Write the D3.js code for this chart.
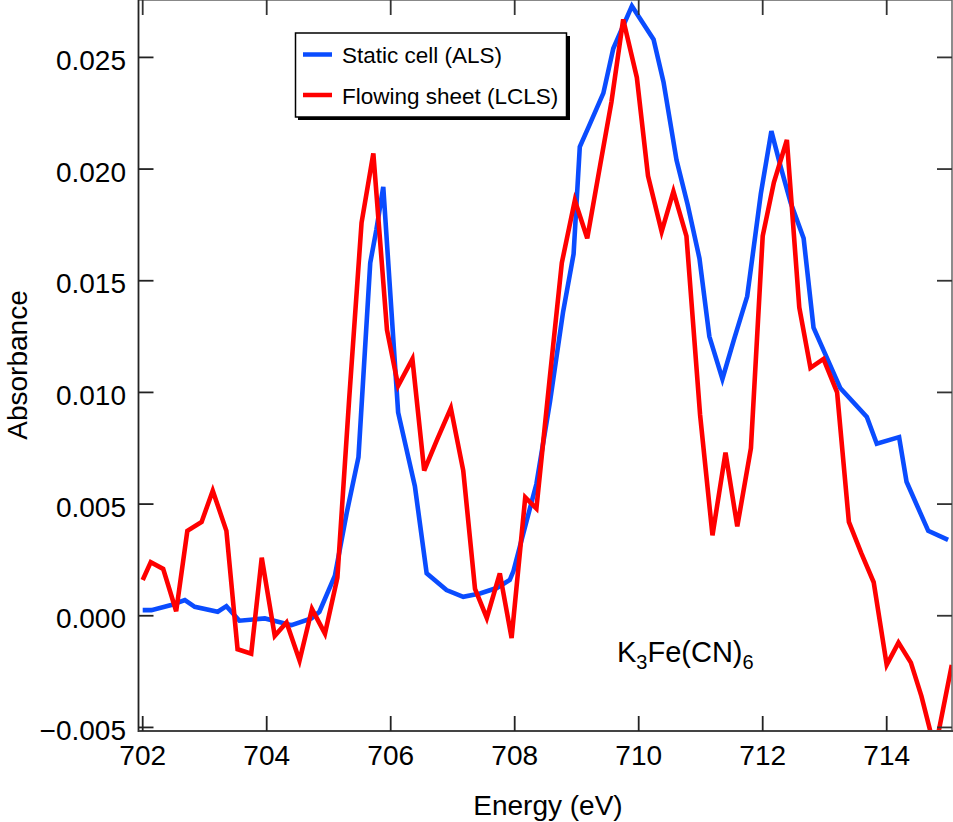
<!DOCTYPE html>
<html>
<head>
<meta charset="utf-8">
<script src="https://cdn.jsdelivr.net/npm/d3@7"></script>
<style>
  html, body { margin: 0; padding: 0; background: #fff; }
  svg { display: block; }
  text { font-family: "Liberation Sans", Arial, Helvetica, sans-serif; fill: #000; }
</style>
</head>
<body>
<svg id="chart" width="953" height="822"></svg>
<script>
// ---- Data ----
const alsEnergy = [702.00, 702.14, 702.46, 702.68, 702.84, 703.21, 703.35, 703.56, 703.97, 704.40,
  704.72, 704.85, 705.10, 705.29, 705.48, 705.67, 705.77, 705.88, 706.12, 706.39,
  706.58, 706.90, 707.17, 707.44, 707.71, 707.92, 707.98, 708.14, 708.35, 708.57,
  708.78, 708.95, 709.05, 709.21, 709.43, 709.59, 709.89, 710.24, 710.40, 710.61,
  710.79, 710.98, 711.14, 711.35, 711.54, 711.75, 711.97, 712.14, 712.29, 712.45,
  712.66, 712.82, 713.25, 713.68, 713.84, 714.20, 714.32, 714.67, 714.99];
const alsAbs = [0.00025, 0.00025, 0.00048, 0.00070, 0.00040, 0.00018, 0.00043, -0.00022, -0.00012, -0.00042,
  -0.00012, 0.00018, 0.00180, 0.00460, 0.00710, 0.01580, 0.01730, 0.01920, 0.00910, 0.00580,
  0.00190, 0.00115, 0.00085, 0.00100, 0.00124, 0.00160, 0.00200, 0.00370, 0.00590, 0.00960,
  0.01360, 0.01620, 0.02100, 0.02200, 0.02340, 0.02540, 0.02730, 0.02580, 0.02390, 0.02040,
  0.01840, 0.01600, 0.01250, 0.01060, 0.01240, 0.01430, 0.01890, 0.02170, 0.02010, 0.01850,
  0.01690, 0.01290, 0.01020, 0.00890, 0.00770, 0.00800, 0.00600, 0.00380, 0.00340];

const lclsEnergy = [702.00, 702.13, 702.33, 702.54, 702.72, 702.95, 703.13, 703.35, 703.53, 703.75,
  703.92, 704.13, 704.32, 704.53, 704.73, 704.94, 705.14, 705.33, 705.53, 705.72,
  705.94, 706.12, 706.35, 706.54, 706.75, 706.97, 707.17, 707.36, 707.55, 707.76,
  707.95, 708.17, 708.35, 708.56, 708.76, 708.97, 709.17, 709.38, 709.56, 709.75,
  709.97, 710.15, 710.37, 710.56, 710.77, 710.99, 711.19, 711.40, 711.59, 711.81,
  712.00, 712.18, 712.39, 712.59, 712.77, 712.98, 713.20, 713.39, 713.59, 713.79,
  714.00, 714.19, 714.39, 714.56, 714.78, 715.05];
const lclsAbs = [0.0016, 0.0024, 0.0021, 0.0002, 0.0038, 0.0042, 0.0056, 0.0038, -0.0015, -0.0017,
  0.0026, -0.0009, -0.0003, -0.0020, 0.0003, -0.0008, 0.0017, 0.0097, 0.0176, 0.0207,
  0.0128, 0.0103, 0.0115, 0.0065, 0.0079, 0.0093, 0.0065, 0.0012, -0.0001, 0.0019,
  -0.0010, 0.0053, 0.0048, 0.0105, 0.0158, 0.0186, 0.0169, 0.0202, 0.0230, 0.0267,
  0.0241, 0.0197, 0.0172, 0.0190, 0.0170, 0.0090, 0.0036, 0.0073, 0.0040, 0.0075,
  0.0170, 0.0194, 0.0213, 0.0138, 0.0111, 0.0115, 0.0100, 0.0042, 0.0028, 0.0015,
  -0.0022, -0.0012, -0.0021, -0.0036, -0.0060, -0.0022];

const xTicks = [702, 704, 706, 708, 710, 712, 714];
const yTicks = [-0.005, 0.000, 0.005, 0.010, 0.015, 0.020, 0.025];
const seriesNames = ["Static cell (ALS)", "Flowing sheet (LCLS)"];
const seriesColors = ["#0a4cff", "#ff0000"];

// ---- Layout ----
const svg = d3.select("#chart");
const L = 138.5, R = 952, T = 0.5, B = 731;
const x = d3.scaleLinear().domain([702, 714]).range([142.7, 886.7]);
const y = d3.scaleLinear().domain([-0.00516, 0.02757]).range([B, 0]);

svg.append("defs").append("clipPath").attr("id", "plotclip")
  .append("rect").attr("x", L).attr("y", 0).attr("width", R - L).attr("height", B);

// ---- Lines ----
const line = d3.line().x(d => x(d[0])).y(d => y(d[1]));
const als = alsEnergy.map((e, i) => [e, alsAbs[i]]);
const lcls = lclsEnergy.map((e, i) => [e, lclsAbs[i]]);
const g = svg.append("g").attr("clip-path", "url(#plotclip)");
g.append("path").datum(als).attr("d", line)
  .attr("fill", "none").attr("stroke", seriesColors[0]).attr("stroke-width", 4.6)
  .attr("stroke-linejoin", "miter");
g.append("path").datum(lcls).attr("d", line)
  .attr("fill", "none").attr("stroke", seriesColors[1]).attr("stroke-width", 4.6)
  .attr("stroke-linejoin", "miter");

// ---- Frame ----
const ax = svg.append("g");
ax.append("line").attr("x1", L).attr("x2", R).attr("y1", T).attr("y2", T).attr("stroke", "#888").attr("stroke-width", 1.2);
ax.append("line").attr("x1", R).attr("x2", R).attr("y1", 0).attr("y2", B).attr("stroke", "#666").attr("stroke-width", 1.5);
ax.append("line").attr("x1", L).attr("x2", L).attr("y1", 0).attr("y2", B + 1).attr("stroke", "#222").attr("stroke-width", 1.8);
ax.append("line").attr("x1", L).attr("x2", R + 1).attr("y1", B).attr("y2", B).attr("stroke", "#444").attr("stroke-width", 2);

const tickLen = 15;
xTicks.forEach(t => {
  const px = x(t);
  ax.append("line").attr("x1", px).attr("x2", px).attr("y1", B).attr("y2", B - tickLen).attr("stroke", "#222").attr("stroke-width", 1.8);
  ax.append("line").attr("x1", px).attr("x2", px).attr("y1", 0).attr("y2", tickLen).attr("stroke", "#333").attr("stroke-width", 1.8);
  ax.append("text").attr("x", px).attr("y", 765).attr("text-anchor", "middle")
    .attr("font-size", 28).text(d3.format("d")(t));
});
yTicks.forEach(t => {
  const py = y(t);
  ax.append("line").attr("x1", L).attr("x2", L + tickLen).attr("y1", py).attr("y2", py).attr("stroke", "#222").attr("stroke-width", 1.8);
  ax.append("line").attr("x1", R).attr("x2", R - tickLen).attr("y1", py).attr("y2", py).attr("stroke", "#333").attr("stroke-width", 1.8);
  ax.append("text").attr("x", 126).attr("y", py + 12.5).attr("text-anchor", "end")
    .attr("font-size", 28).text(d3.format(".3f")(t));
});

// ---- Axis titles ----
svg.append("text").attr("x", 548).attr("y", 815).attr("text-anchor", "middle")
  .attr("font-size", 28).text("Energy (eV)");
svg.append("text").attr("transform", "translate(27,365) rotate(-90)").attr("text-anchor", "middle")
  .attr("font-size", 28).text("Absorbance");

// ---- Annotation ----
const ann = svg.append("text").attr("x", 617).attr("y", 662).attr("font-size", 29);
ann.append("tspan").text("K");
ann.append("tspan").attr("font-size", 20).attr("dy", 7).text("3");
ann.append("tspan").attr("dy", -7).text("Fe(CN)");
ann.append("tspan").attr("font-size", 20).attr("dy", 7).text("6");

// ---- Legend ----
const lg = svg.append("g");
lg.append("rect").attr("x", 298).attr("y", 36).attr("width", 272).attr("height", 84).attr("fill", "#000");
lg.append("rect").attr("x", 295.5).attr("y", 33).attr("width", 271).attr("height", 84)
  .attr("fill", "#fff").attr("stroke", "#000").attr("stroke-width", 1.5);
seriesNames.forEach((name, i) => {
  const yy = 54.5 + i * 40.5;
  lg.append("line").attr("x1", 303).attr("x2", 332).attr("y1", yy).attr("y2", yy)
    .attr("stroke", seriesColors[i]).attr("stroke-width", 4.5);
  lg.append("text").attr("x", 342).attr("y", yy + 8.5).attr("font-size", 22.5).text(name);
});
</script>
</body>
</html>
